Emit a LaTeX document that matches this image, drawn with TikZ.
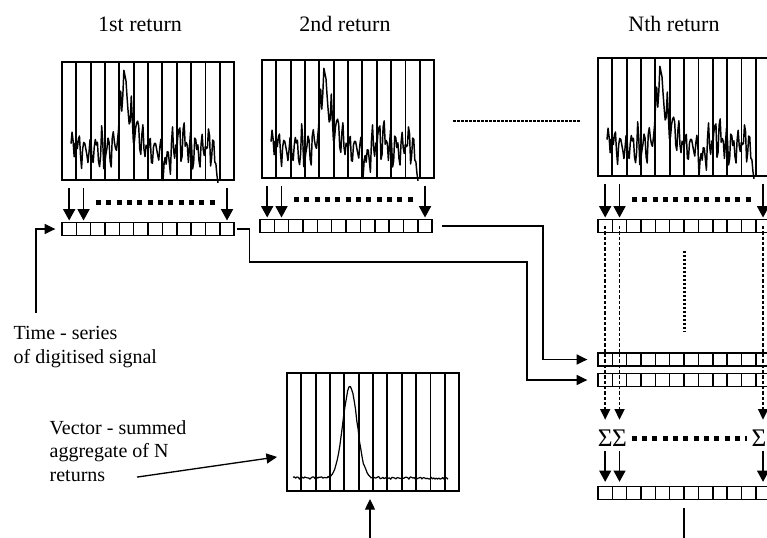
\documentclass[tikz,border=0pt]{standalone}
\usepackage{fontspec}
\setmainfont{Liberation Serif}
\usepackage{tikz}
\usetikzlibrary{arrows.meta,positioning,calc}

% one sampling window with its 12 range bins: name, left, top
\newcommand\retwindow[3]{%
  \node[retpanel,anchor=north west] (#1) at (#2,#3) {};
  \foreach \k in {1,...,11}
    \draw[binline] ([xshift=\k*10.76pt]#1.north west) -- ([xshift=\k*10.76pt]#1.south west);}

% a row of 12 cells: name, left, centre y
\newcommand\regrow[3]{%
  \foreach \i in {1,...,12}
    \node[regcell] (#1-\i) at ({#2+(\i-0.5)*14.35},#3) {};}

% the noisy single return: left, top
\newcommand\rettrace[2]{%
  \pgfmathsetseed{4711}%
  \draw[trace] plot[domain=9:156,samples=140,variable=\u]
    ({#1+\u},{#2+89-52*bump(62,5,\u)-24*bump(69,11,\u)-10*bump(120,10,\u)-8*bump(145,5,\u)
      +12*bump(104,6,\u)+18*bump(156,3,\u)-14*bump(13,2,\u)
      +12*sin(61*\u)+8*sin(97*\u+20)+7*rand});}

\begin{document}
\begin{tikzpicture}[x=0.75pt,y=-0.75pt,line width=1pt,font=\fontsize{15}{17.5}\selectfont,
  declare function={bump(\c,\w,\t)=exp(-min(25,((\t-\c)/\w)*((\t-\c)/\w)));},
  retpanel/.style={draw,line width=1.4pt,minimum width=129.1pt,minimum height=88.5pt,inner sep=0pt,outer sep=0pt},
  binline/.style={line width=1.4pt},
  regcell/.style={draw,line width=1.1pt,minimum width=10.76pt,minimum height=9.75pt,inner sep=0pt,outer sep=0pt},
  trace/.style={line width=1.1pt,line join=round},
  title/.style={font=\fontsize{16.5}{18}\selectfont},
  drop/.style={-{Triangle[width=9pt,length=8.5pt]},line width=1.1pt,shorten >=1.5pt},
  link/.style={-{Triangle[width=7.5pt,length=8pt]},line width=1pt,shorten >=8pt},
  tapline/.style={-{Triangle[width=7.5pt,length=8pt]},line width=1.2pt,dash pattern=on 2.5pt off 1.5pt},
  sqdots/.style={line width=3.75pt,dash pattern=on 3.75pt off 4pt},
  finedots/.style={line width=2.2pt,dash pattern=on 2pt off 1pt},
  sumsign/.style={inner sep=0pt,font=\fontsize{19}{19}\selectfont},
  note/.style={align=left,inner sep=0pt,anchor=north west}]

\useasboundingbox (0,0) rectangle (767,537);
\clip (0,0) rectangle (767,537);

% returns
\node[title] (t1) at (140,24) {1st return};
\node[title] (t2) at (345,24) {2nd return};
\node[title] (tN) at (674,24) {Nth return};
\retwindow{p1}{62}{62}   \rettrace{62}{62}
\retwindow{p2}{262}{60}  \rettrace{262}{60}
\retwindow{pN}{598}{58}  \rettrace{598}{58}
\draw[finedots] ($(p2.east)+(19,2)$) -- ($(pN.west)+(-18,4)$);

% digitised series
\regrow{r1}{62}{229}
\regrow{r2}{260}{226}
\regrow{rN}{598}{226}
\foreach \p/\r in {p1/r1,p2/r2,pN/rN}{
  \foreach \i in {1,2,12}
    \draw[drop] ([yshift=-6pt]\p.south -| \r-\i.north) -- (\r-\i.north);
  \draw[sqdots] ($(\r-2.north)+(12.5,-20)$) -- ($(\r-12.north)+(-9,-20)$);
}

% stacking the series
\regrow{rA}{598}{359.5}
\regrow{rB}{598}{380}
\draw[link,shorten <=7.5pt] (r2-12.east) -| ($(rA-1.west)+(-55,0)$) -- (rA-1.west);
\draw[link,shorten <=2pt] (r1-12.east) -- ++(15,0) -- ++(0,33) -| ($(rB-1.west)+(-71,0)$) -- (rB-1.west);
\draw[finedots] ($(rN-6.south east)+(0,18)$) -- ($(rA-6.north east)+(0,-22)$);

% summing per bin
\node[sumsign] (s1) at ($(rN-1)+(0,212)$) {Σ};
\node[sumsign] (s2) at ($(rN-2)+(0,212)$) {Σ};
\node[sumsign] (s3) at ($(rN-12)+(-4,212)$) {Σ};
\draw[sqdots] ([xshift=3pt]s2.east) -- ([xshift=-3pt]s3.west);
\regrow{rS}{598}{493}
\foreach \i/\sg in {1/s1,2/s2,12/s3}{
  \draw[tapline,shorten >=7pt] (rN-\i.center) -- (rN-\i.center |- \sg.north);
  \draw[drop,shorten <=3pt,shorten >=3.5pt] (rN-\i.center |- \sg.south) -- (rS-\i.north);
}
\draw ([yshift=-6.5pt]rS-6.south east) -- ++(0,50);

% aggregate
\retwindow{pA}{287}{373}
\pgfmathsetseed{17}
\draw[trace,line width=0.9pt] plot[domain=6:161,samples=120,variable=\u] ({287+\u},{373+105-92*bump(63,10,\u)+1.2*rand});
\coordinate (feed) at (370,545);
\draw[link,shorten >=6pt] (feed) -- (feed |- pA.south);

% notes
\node[note] (ts) at (13,326) {Time - series\\of digitised signal};
\draw[link,shorten >=5pt] ($(ts.north west)+(23,-13)$) |- (r1-1.west);
\node[note] (vs) at (49,420) {Vector - summed\\aggregate of N\\returns};
\draw[link,shorten >=7.5pt] ($(vs.south west)+(88,-5)$) -- ($(pA.west)+(0,23.5)$);
\end{tikzpicture}
\end{document}
